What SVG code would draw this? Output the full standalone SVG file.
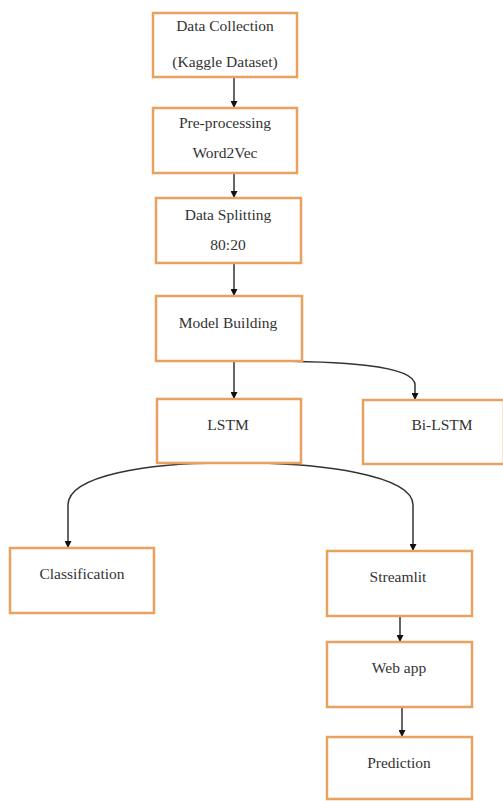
<svg xmlns="http://www.w3.org/2000/svg" width="503" height="801" viewBox="0 0 503 801">
<style>
.box{fill:#fff;stroke:#E9A15F;stroke-width:2.5}
.t{font-family:"Liberation Serif","Times New Roman",serif;font-size:15.5px;fill:#333;text-anchor:middle}
.c{fill:none;stroke:#333;stroke-width:1.5}
</style>
<defs>
<marker id="ah" viewBox="0 0 10 10" refX="10" refY="5" markerWidth="7" markerHeight="7" markerUnits="userSpaceOnUse" orient="auto">
<path d="M0,0 L10,5 L0,10 z" fill="#111"/>
</marker>
</defs>
<rect width="503" height="801" fill="#fff"/>
<g id="connectors">
<path class="c" d="M234,77 V108" marker-end="url(#ah)"/>
<path class="c" d="M234,173 V198" marker-end="url(#ah)"/>
<path class="c" d="M234,263 V296" marker-end="url(#ah)"/>
<path class="c" d="M234,361 V399" marker-end="url(#ah)"/>
<path class="c" d="M257,361 C340,361 415,365 415,385 V400" marker-end="url(#ah)"/>
<path class="c" d="M223,463 C150,463 68,475 68,505 V548" marker-end="url(#ah)"/>
<path class="c" d="M243,463 C320,463 413,475 413,505 V551" marker-end="url(#ah)"/>
<path class="c" d="M400,616 V642" marker-end="url(#ah)"/>
<path class="c" d="M402,707 V737" marker-end="url(#ah)"/>
</g>
<g id="n1"><rect class="box" x="153" y="13" width="144" height="64"/><text class="t" x="225" y="31">Data Collection</text><text class="t" x="225" y="67">(Kaggle Dataset)</text></g>
<g id="n2"><rect class="box" x="153" y="108" width="144" height="65"/><text class="t" x="225" y="128">Pre-processing</text><text class="t" x="225" y="158">Word2Vec</text></g>
<g id="n3"><rect class="box" x="156" y="198" width="145" height="65"/><text class="t" x="228" y="220">Data Splitting</text><text class="t" x="228" y="250">80:20</text></g>
<g id="n4"><rect class="box" x="156" y="296" width="146" height="65"/><text class="t" x="228" y="328">Model Building</text></g>
<g id="n5"><rect class="box" x="157" y="399" width="144" height="64"/><text class="t" x="228" y="430">LSTM</text></g>
<g id="n6"><rect class="box" x="363" y="400" width="141" height="64"/><text class="t" x="442" y="430">Bi-LSTM</text></g>
<g id="n7"><rect class="box" x="10" y="548" width="144" height="65"/><text class="t" x="82" y="579">Classification</text></g>
<g id="n8"><rect class="box" x="327" y="551" width="145" height="65"/><text class="t" x="398" y="582">Streamlit</text></g>
<g id="n9"><rect class="box" x="327" y="642" width="145" height="65"/><text class="t" x="399" y="673">Web app</text></g>
<g id="n10"><rect class="box" x="327" y="737" width="145" height="62"/><text class="t" x="399" y="768">Prediction</text></g>
</svg>
